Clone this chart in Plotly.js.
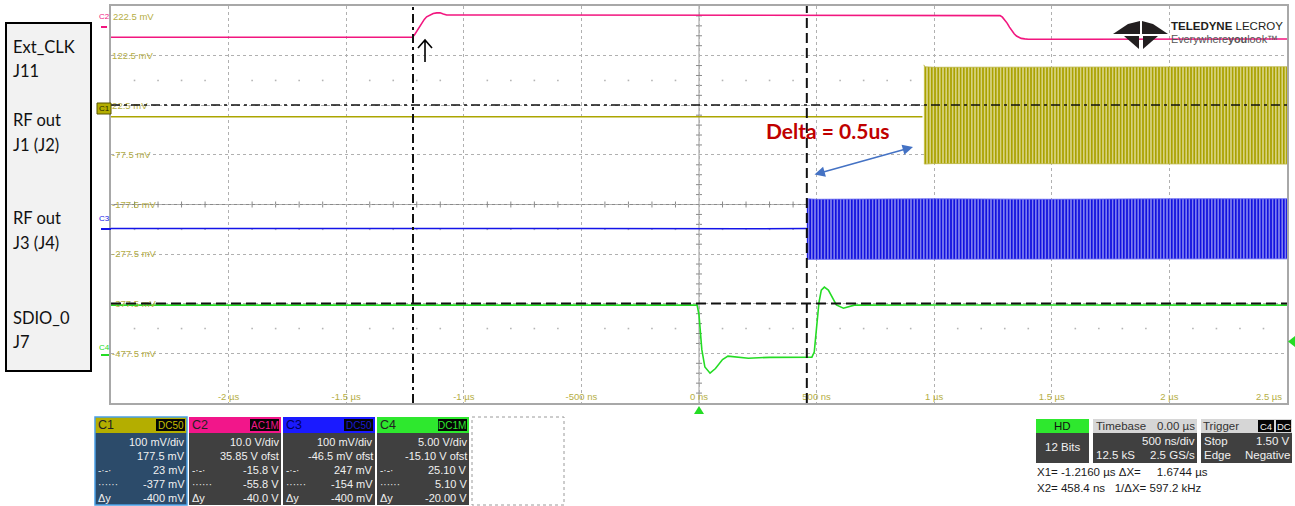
<!DOCTYPE html>
<html><head><meta charset="utf-8">
<script src="https://cdn.plot.ly/plotly-3.0.1.min.js"></script>
<style>html,body{margin:0;padding:0;background:#fff}#chart{width:1295px;height:506px}</style>
</head><body><div id="chart"></div>
<script>
// ---------------- data (time in µs, levels in mV on the C1 screen grid) ----------------
const xTickVals = [-2, -1.5, -1, -0.5, 0, 0.5, 1, 1.5, 2, 2.5];
const xTickText = ['-2 µs', '-1.5 µs', '-1 µs', '-500 ns', '0 ns', '500 ns', '1 µs', '1.5 µs', '2 µs', '2.5 µs'];
const yTickVals = [122.5, 22.5, -77.5, -177.5, -277.5, -377.5, -477.5];
const yTickText = ['122.5 mV', '22.5 mV', '-77.5 mV', '-177.5 mV', '-277.5 mV', '-377.5 mV', '-477.5 mV'];
const yTopLabel = '222.5 mV';

// C2 : Ext_CLK (pink)
const c2Time  = [-2.5, -1.219, -1.210, -1.200, -1.189, -1.179, -1.168, -1.158, -1.144, -1.130, -1.115, -1.101, -1.087, -1.073, -0.8, -0.2, 0.4, 1.0, 1.27, 1.28, 1.29, 1.30, 1.31, 1.32, 1.33, 1.34, 1.35, 1.36, 1.37, 1.385, 1.40, 1.6, 2.0, 2.5];
const c2Level = [159.6, 159.6, 164, 171.7, 181, 189.2, 195.5, 200.7, 204.5, 207.4, 208.6, 208.8, 206.5, 204.4, 204.4, 204.0, 204.6, 204.2, 204.4, 203.2, 200, 195, 188, 180, 172, 166.5, 162, 159.2, 157.3, 156.2, 155.6, 155.5, 156, 156];

// C1 : RF out J1 (olive) – quiet level, then RF burst envelope
const c1Time  = [-2.5, -1.5, -0.5, 0.5, 0.95];
const c1Level = [-0.7, -0.5, -1.0, -0.5, -0.7];
const c1BurstTime = [0.956, 0.96, 1.0, 1.5, 2.0, 2.5];
const c1BurstHigh = [104, 100, 99, 99, 99, 100];
const c1BurstLow  = [-95, -96, -95, -95, -95, -96];

// C3 : RF out J3 (blue)
const c3Time  = [-2.5, -1.5, -0.5, 0.2, 0.4584];
const c3Level = [-226, -225.5, -226, -226.5, -226];
const c3BurstTime = [0.4584, 0.5, 1.0, 1.5, 2.0, 2.5];
const c3BurstHigh = [-166, -167, -166, -167, -166, -166];
const c3BurstLow  = [-288, -288, -287, -288, -288, -287];

// C4 : SDIO_0 (green)
const c4Time  = [-2.5, -0.5, -0.008, 0.0, 0.012, 0.025, 0.047, 0.07, 0.1, 0.123, 0.16, 0.21, 0.3, 0.4, 0.48, 0.49, 0.50, 0.51, 0.52, 0.533, 0.55, 0.57, 0.584, 0.614, 0.64, 0.66, 1.0, 2.5];
const c4Level = [-380.3, -380, -380.3, -400, -470, -505, -517.4, -508, -490, -483.1, -485, -487.2, -485.5, -485, -485, -475, -430, -375, -350, -344, -350, -368, -380, -386.4, -383, -380.3, -380, -380.3];

// cursors
const cursorX1 = -1.2160, cursorX2 = 0.4584;   // µs
const cursorY1 = 23, cursorY2 = -377;          // mV

const sideLabels = ['Ext_CLK', 'J11', 'RF out', 'J1 (J2)', 'RF out', 'J3 (J4)', 'SDIO_0', 'J7'];
const channelPanels = [
  {name: 'C1', coupling: 'DC50', rows: ['100 mV/div', '177.5 mV', '23 mV', '-377 mV', '-400 mV']},
  {name: 'C2', coupling: 'AC1M', rows: ['10.0 V/div', '35.85 V ofst', '-15.8 V', '-55.8 V', '-40.0 V']},
  {name: 'C3', coupling: 'DC50', rows: ['100 mV/div', '-46.5 mV ofst', '247 mV', '-154 mV', '-400 mV']},
  {name: 'C4', coupling: 'DC1M', rows: ['5.00 V/div', '-15.10 V ofst', '25.10 V', '5.10 V', '-20.00 V']}
];
const cursorReadout = ['X1= -1.2160 µs ΔX=\u00a0\u00a0\u00a0\u00a0 1.6744 µs', 'X2= 458.4 ns\u00a0\u00a0 1/ΔX= 597.2 kHz'];

// ---------------- styling / layout helpers ----------------
const W = 1295, H = 506, L = 111, R = 1287, T = 6, B = 403;
const px = x => (x - L) / (R - L);
const py = y => (B - y) / (B - T);
const C1col = '#aca500', C2col = '#f2167f', C3col = '#1414e8', C4col = '#24dc24';
const UI = 'Liberation Sans, Arial, sans-serif';

const shapes = [], anns = [];
function rect(x0, y0, x1, y1, fill, lc, lw, dash) {
  shapes.push({type: 'rect', xref: 'paper', yref: 'paper', x0: px(x0), x1: px(x1), y0: py(y0), y1: py(y1),
    fillcolor: fill, line: {color: lc || 'rgba(0,0,0,0)', width: lw || 0, dash: dash || 'solid'}, layer: 'above'});
}
function seg(x0, y0, x1, y1, col, w, dash) {
  shapes.push({type: 'line', xref: 'paper', yref: 'paper', x0: px(x0), x1: px(x1), y0: py(y0), y1: py(y1),
    line: {color: col, width: w, dash: dash || 'solid'}, layer: 'above'});
}
function poly(pts, fill, closed, col, w) {
  let d = '';
  let move = true;
  for (const p of pts) {
    if (p === 'M') { move = true; continue; }
    d += (move ? 'M' : 'L') + px(p[0]).toFixed(5) + ',' + py(p[1]).toFixed(5) + ' ';
    move = false;
  }
  if (closed) d += 'Z';
  shapes.push({type: 'path', xref: 'paper', yref: 'paper', path: d, fillcolor: fill || 'rgba(0,0,0,0)',
    line: {color: col || 'rgba(0,0,0,0)', width: w || 0}, layer: 'above'});
}
function txt(x, y, s, o) {
  o = o || {};
  const font = Object.assign({family: UI, size: 11, color: '#ececec'}, o.font || {});
  const a = Object.assign({xref: 'paper', yref: 'paper', x: px(x), y: py(y), text: s, showarrow: false,
    xanchor: 'left', yanchor: 'middle', borderpad: 0, borderwidth: 0}, o);
  a.font = font;
  anns.push(a);
}

// ---------------- traces ----------------
const traces = [
  {x: c2Time, y: c2Level, mode: 'lines', line: {color: C2col, width: 1.6}, name: 'C2', hoverinfo: 'skip'},
  {x: c1Time, y: c1Level, mode: 'lines', line: {color: C1col, width: 1.6}, name: 'C1', hoverinfo: 'skip'},
  {x: c1BurstTime, y: c1BurstLow, mode: 'lines', line: {color: '#b8b23a', width: 0.8}, hoverinfo: 'skip'},
  {x: c1BurstTime, y: c1BurstHigh, mode: 'lines', line: {color: '#b8b23a', width: 0.8}, fill: 'tonexty',
   fillcolor: '#d6d27a', fillpattern: {shape: '|', size: 3.2, solidity: 0.55, fgcolor: '#aaa200', bgcolor: '#dcd88e'}, hoverinfo: 'skip'},
  {x: c3Time, y: c3Level, mode: 'lines', line: {color: C3col, width: 1.6}, name: 'C3', hoverinfo: 'skip'},
  {x: c3BurstTime, y: c3BurstLow, mode: 'lines', line: {color: '#5a5af0', width: 0.8}, hoverinfo: 'skip'},
  {x: c3BurstTime, y: c3BurstHigh, mode: 'lines', line: {color: '#5a5af0', width: 0.8}, fill: 'tonexty',
   fillcolor: '#2020e0', fillpattern: {shape: '|', size: 3.2, solidity: 0.6, fgcolor: '#1010e0', bgcolor: '#9a9af2'}, hoverinfo: 'skip'},
  {x: c4Time, y: c4Level, mode: 'lines', line: {color: C4col, width: 1.6}, name: 'C4', hoverinfo: 'skip'}
];

// ---------------- grid decorations ----------------
const dxp = 1 / 235.2, dyp = 100 / 49.625; // data units per pixel
shapes.push({type: 'line', xref: 'x', yref: 'paper', x0: 0, x1: 0, y0: 0, y1: 1, line: {color: '#9a9a9a', width: 1}, layer: 'below'});
shapes.push({type: 'line', xref: 'paper', yref: 'y', x0: 0, x1: 1, y0: -177.5, y1: -177.5, line: {color: '#8a8a8a', width: 1}, layer: 'below'});
for (let k = -19; k <= 20; k++) {
  if (k % 5 === 0) continue;
  const v = -177.5 + 20 * k;
  shapes.push({type: 'line', xref: 'x', yref: 'y', x0: -3 * dxp, x1: 3 * dxp, y0: v, y1: v, line: {color: '#8a8a8a', width: 1}, layer: 'below'});
}
for (let k = -24; k <= 24; k++) {
  if (k % 5 === 0) continue;
  const t = k / 10;
  shapes.push({type: 'line', xref: 'x', yref: 'y', x0: t, x1: t, y0: -177.5 - 3 * dyp, y1: -177.5 + 3 * dyp, line: {color: '#8a8a8a', width: 1}, layer: 'below'});
}
for (const v of [72.5, -227.5, -427.5]) {
  for (let k = -24; k <= 24; k++) {
    if (k % 5 === 0) continue;
    const t = k / 10;
    shapes.push({type: 'rect', xref: 'x', yref: 'y', x0: t - 0.8 * dxp, x1: t + 0.8 * dxp, y0: v - 0.8 * dyp, y1: v + 0.8 * dyp,
      fillcolor: '#b4b4b4', line: {width: 0}, layer: 'below'});
  }
}

// cursors
shapes.push({type: 'line', xref: 'x', yref: 'paper', x0: cursorX1, x1: cursorX1, y0: 0, y1: 1, line: {color: '#111', width: 2, dash: '9px,4px,3px,4px'}, layer: 'above'});
shapes.push({type: 'line', xref: 'x', yref: 'paper', x0: cursorX2, x1: cursorX2, y0: 0, y1: 1, line: {color: '#111', width: 2, dash: '10px,5px'}, layer: 'above'});
shapes.push({type: 'line', xref: 'paper', yref: 'y', x0: 0, x1: 1, y0: cursorY1, y1: cursorY1, line: {color: '#111', width: 1.6, dash: '9px,4px,3px,4px'}, layer: 'above'});
shapes.push({type: 'line', xref: 'paper', yref: 'y', x0: 0, x1: 1, y0: cursorY2, y1: cursorY2, line: {color: '#111', width: 2, dash: '10px,5px'}, layer: 'above'});

// top y label and the last x label (others are axis tick labels)
txt(113, 16, yTopLabel, {font: {size: 9.5, color: '#b5ae45'}});
anns.push({xref: 'x', yref: 'paper', x: xTickVals[xTickVals.length - 1], y: py(396), text: xTickText[xTickText.length - 1],
  showarrow: false, xanchor: 'right', yanchor: 'middle', xshift: -3, font: {family: UI, size: 9.5, color: '#b5ae45'}});

// channel ground markers at left of grid
txt(99, 17, 'C2', {font: {size: 8, color: C2col}});
seg(101, 27, 107, 27, C2col, 2);
rect(97, 103, 111, 114, '#b4ae00', '#5b5700', 1);
txt(104, 108.5, 'C1', {xanchor: 'center', font: {size: 8, color: '#2a2800'}});
txt(99, 219, 'C3', {font: {size: 8, color: C3col}});
seg(101, 229, 111, 229, C3col, 2);
txt(99, 347, 'C4', {font: {size: 8, color: C4col}});
seg(101, 355, 109, 355, C4col, 2);

// trigger markers
poly([[694, 414], [704, 414], [699, 406]], C4col, true);
poly([[1295, 336], [1295, 347], [1288, 341.5]], C4col, true);

// black up arrow
poly([[425, 62], [425, 40], 'M', [418, 48], [425, 40], [432, 48]], null, false, '#000', 1.6);

// annotation
txt(828, 130, 'Delta = 0.5us', {xanchor: 'center', font: {family: 'Lato, Carlito, sans-serif', size: 21, color: '#c00000', weight: 'bold'}});
anns.push({xref: 'paper', yref: 'paper', x: px(913), y: py(147), ax: -100, ay: 28, text: '', showarrow: true,
  arrowhead: 2, startarrowhead: 2, arrowside: 'end+start', arrowsize: 1.3, startarrowsize: 1.3, arrowwidth: 1.6, arrowcolor: '#4472c4', standoff: 0, startstandoff: 0});

// left label box
rect(6, 23, 91, 371, '#f2f2f2', '#000', 2);
const sideY = [47, 71, 120, 145, 218, 243, 318, 342];
sideLabels.forEach((s, i) => txt(13, sideY[i], s, {font: {family: 'Lato, Carlito, sans-serif', size: 16.5, color: '#111'}}));

// logo
poly([[1113, 34], [1128, 24], [1140, 21], [1140, 34]], '#231f20', true);
poly([[1168, 34], [1153, 24], [1142, 21], [1142, 34]], '#231f20', true);
poly([[1124, 36], [1139, 36], [1139, 49]], '#231f20', true);
poly([[1143, 36], [1158, 36], [1143, 49]], '#231f20', true);
txt(1171, 26, '<b>TELEDYNE</b> LECROY', {font: {size: 11.5, color: '#231f20'}});
txt(1171, 39, 'Everywhere<b>you</b>look™', {font: {size: 10.8, color: '#555'}});

// channel panels
const panelX = [95, 189, 283, 377];
const headCol = ['#b4ae00', '#f2168a', '#1a1aff', '#2ee82e'];
const bodyCol = ['#2c4b6a', '#404040', '#404040', '#404040'];
const badgeTxt = ['#c4bc00', '#f2168a', '#1a1ad0', '#2ee82e'];
const rowY = [442, 456, 470, 484, 498];
channelPanels.forEach((p, i) => {
  const x0 = panelX[i], x1 = x0 + 92;
  rect(x0, 417, x1, 433, headCol[i]);
  rect(x0, 433, x1, 505, bodyCol[i]);
  if (i === 0) rect(x0, 417, x1, 505, 'rgba(0,0,0,0)', '#4aa0e6', 1.5);
  txt(x0 + 3, 425, p.name, {font: {size: 12.5, color: i === 2 ? '#000060' : '#222'}});
  rect(x1 - 31, 419, x1 - 2, 431, '#050505');
  txt(x1 - 16.5, 425, p.coupling, {xanchor: 'center', font: {size: 10, color: badgeTxt[i]}});
  p.rows.forEach((r, j) => txt(x1 - 2, rowY[j], r, {xanchor: 'right', font: {size: 11, color: '#f0f0f0'}}));
  txt(x0 + 3, rowY[2], '-·-·', {font: {size: 10, color: '#e8e8e8'}});
  txt(x0 + 3, rowY[3], '······', {font: {size: 10, color: '#e8e8e8'}});
  txt(x0 + 3, rowY[4], 'Δy', {font: {size: 11, color: '#f0f0f0'}});
});
rect(472, 417, 564, 505, 'rgba(0,0,0,0)', '#9a9a9a', 1, 'dot');

// acquisition panels
rect(1036, 419, 1089, 433, '#2ee82e');
rect(1036, 433, 1089, 463, '#404040');
txt(1062.5, 426, 'HD', {xanchor: 'center', font: {size: 11.5, color: '#111'}});
txt(1062.5, 447, '12 Bits', {xanchor: 'center', font: {size: 11.5, color: '#f0f0f0'}});
rect(1093, 419, 1197, 433, '#d6d6d6');
rect(1093, 433, 1197, 463, '#404040');
txt(1096, 426, 'Timebase', {font: {size: 11.5, color: '#333'}});
txt(1195, 426, '0.00 µs', {xanchor: 'right', font: {size: 11.5, color: '#333'}});
txt(1195, 441, '500 ns/div', {xanchor: 'right', font: {size: 11.5, color: '#f0f0f0'}});
txt(1096, 455, '12.5 kS', {font: {size: 11.5, color: '#f0f0f0'}});
txt(1195, 455, '2.5 GS/s', {xanchor: 'right', font: {size: 11.5, color: '#f0f0f0'}});
rect(1201, 419, 1292, 433, '#d6d6d6');
rect(1201, 433, 1292, 463, '#404040');
txt(1203, 426, 'Trigger', {font: {size: 11.5, color: '#333'}});
rect(1258, 420, 1274, 432, '#050505');
rect(1276, 420, 1291, 432, '#050505');
txt(1266, 426, 'C4', {xanchor: 'center', font: {size: 9.5, color: '#f0f0f0'}});
txt(1283.5, 426, 'DC', {xanchor: 'center', font: {size: 9.5, color: '#f0f0f0'}});
txt(1204, 441, 'Stop', {font: {size: 11.5, color: '#f0f0f0'}});
txt(1290, 441, '1.50 V', {xanchor: 'right', font: {size: 11.5, color: '#f0f0f0'}});
txt(1204, 455, 'Edge', {font: {size: 11.5, color: '#f0f0f0'}});
txt(1290, 455, 'Negative', {xanchor: 'right', font: {size: 11.5, color: '#f0f0f0'}});
txt(1037, 472, cursorReadout[0], {font: {size: 11.5, color: '#1a1a1a'}});
txt(1037, 488, cursorReadout[1], {font: {size: 11.5, color: '#1a1a1a'}});

// ---------------- layout ----------------
const tickFont = {family: UI, size: 9.5, color: '#b5ae45'};
const layout = {
  width: W, height: H,
  margin: {l: L, r: W - R, t: T, b: H - B, pad: 0},
  paper_bgcolor: '#ffffff', plot_bgcolor: '#ffffff',
  showlegend: false,
  xaxis: {range: [-2.5, 2.5], tickvals: xTickVals,
    ticktext: xTickText.map((t, i) => i === xTickText.length - 1 ? '' : t),
    ticklabelposition: 'inside', ticks: '', tickfont: tickFont,
    showgrid: true, gridcolor: '#b0b0b0', griddash: 'dot', gridwidth: 1, zeroline: false,
    showline: true, linecolor: '#a8a8a8', linewidth: 2, mirror: true, fixedrange: true},
  yaxis: {range: [-577.5, 222.5], tickvals: yTickVals, ticktext: yTickText,
    ticklabelposition: 'inside', ticks: '', tickfont: tickFont,
    showgrid: true, gridcolor: '#b0b0b0', griddash: 'dot', gridwidth: 1, zeroline: false,
    showline: true, linecolor: '#a8a8a8', linewidth: 2, mirror: true, fixedrange: true},
  shapes: shapes, annotations: anns
};
Plotly.newPlot('chart', traces, layout, {staticPlot: true, displayModeBar: false});
</script></body></html>
